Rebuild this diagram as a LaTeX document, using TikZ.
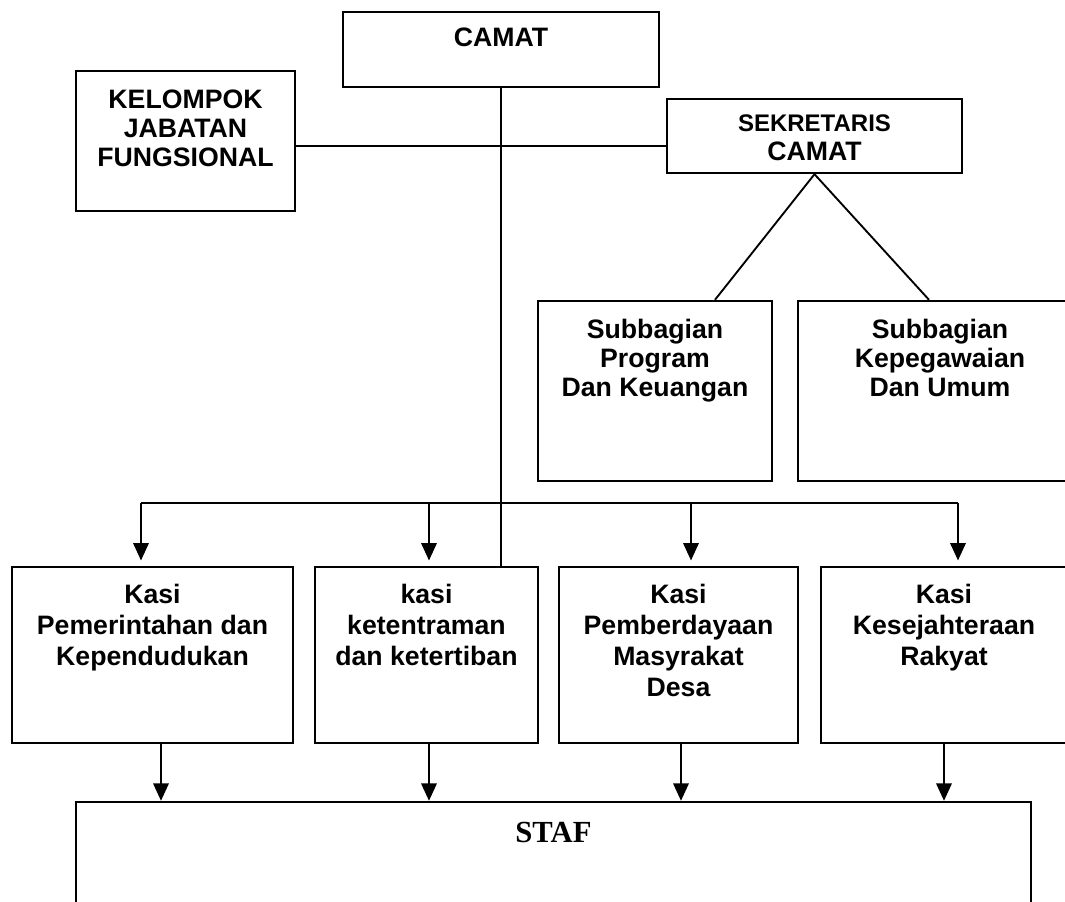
\documentclass[tikz,border=0pt]{standalone}
\usepackage{fontspec}
\setmainfont{Liberation Sans}
\newfontfamily\staffont{Liberation Serif}
\usetikzlibrary{arrows.meta,calc}
\tikzset{
  box/.style 2 args={draw, line width=1.8pt, minimum width=#1, minimum height=#2, inner sep=0pt},
  txt/.style={align=center, inner sep=0pt, anchor=north, font=\bfseries\fontsize{20}{21.75}\selectfont},
  txtk/.style={txt, font=\bfseries\fontsize{20}{23.25}\selectfont},
  link/.style={line width=1.4pt},
  arr/.style={line width=1.6pt, -{Triangle[length=13pt, width=11.5pt]}},
}

\begin{document}
\begin{tikzpicture}[x=0.75pt, y=-0.75pt]
  \useasboundingbox (0,0) rectangle (1065,901);
  \clip (0,0) rectangle (1065,901);

  % pimpinan
  \node[box={237pt}{56.25pt}] (camat) at (501,49.5) {};
  \node[box={164.25pt}{105pt}] (kelompok) at (185.5,141) {};
  \node[box={221.25pt}{55.5pt}] (sekretaris) at (814.5,136) {};

  % subbagian
  \node[box={175.5pt}{135pt}] (sbp) at (655,391) {};
  \node[box={213pt}{135pt}] (sbk) at (940,391) {};

  % seksi
  \node[box={210.75pt}{132pt}] (k1) at (152.5,655) {};
  \node[box={167.25pt}{132pt}] (k2) at (426.5,655) {};
  \node[box={179.25pt}{132pt}] (k3) at (678.5,655) {};
  \node[box={184.5pt}{132pt}] (k4) at (944,655) {};

  \node[box={716.25pt}{96pt}] (staf) at (553.5,866) {};

  % texts
  \node[txt] (camat-t) at ($(camat.north)+(0,17)$) {CAMAT};
  \node[txt] (kelompok-t) at ($(kelompok.north)+(0,19.5)$) {KELOMPOK\\JABATAN\\FUNGSIONAL};
  \node[txt] (sekretaris-t) at ($(sekretaris.north)+(0,16.5)$) {{\fontsize{18}{22}\selectfont SEKRETARIS}\\CAMAT};
  \node[txt] (sbp-t) at ($(sbp.north)+(0,19)$) {Subbagian\\Program\\Dan Keuangan};
  \node[txt] (sbk-t) at ($(sbk.north)+(0,19)$) {Subbagian\\Kepegawaian\\Dan Umum};
  \node[txtk] (k1-t) at ($(k1.north)+(0,18)$) {Kasi\\Pemerintahan dan\\Kependudukan};
  \node[txtk] (k2-t) at ($(k2.north)+(0,18)$) {kasi\\ketentraman\\dan ketertiban};
  \node[txtk] (k3-t) at ($(k3.north)+(0,18)$) {Kasi\\Pemberdayaan\\Masyrakat\\Desa};
  \node[txtk] (k4-t) at ($(k4.north)+(0,18)$) {Kasi\\Kesejahteraan\\Rakyat};
  \node[txt, font=\staffont\bfseries\fontsize{23}{26}\selectfont] (staf-t) at ($(staf.north)+(0,21)$) {STAF};

  % garis
  \coordinate (jab) at (501,146);
  \coordinate (busL) at (141,503);
  \coordinate (busR) at (958,503);
  \draw[link] (camat.south) -- (camat.south |- k2.north);
  \draw[link] (kelompok.east |- jab) -- (sekretaris.west |- jab);
  \draw[link] (sekretaris.south) -- ([xshift=45pt]sbp.north);
  \draw[link] (sekretaris.south) -- ([xshift=-8.25pt]sbk.north);
  \draw[line width=1.6pt] (busL) -- (busR);

  \foreach \k/\dx in {k1/-8.625pt, k2/1.875pt, k3/9.375pt, k4/10.5pt}
    \draw[arr, shorten >=4pt] ([xshift=\dx]\k.north |- busL) -- ([xshift=\dx]\k.north);
  \foreach \k/\dx in {k1/6.375pt, k2/1.875pt, k3/1.875pt, k4/0pt}
    \draw[arr] ([xshift=\dx]\k.south) -- ([xshift=\dx]\k.south |- staf.north);
\end{tikzpicture}
\end{document}
